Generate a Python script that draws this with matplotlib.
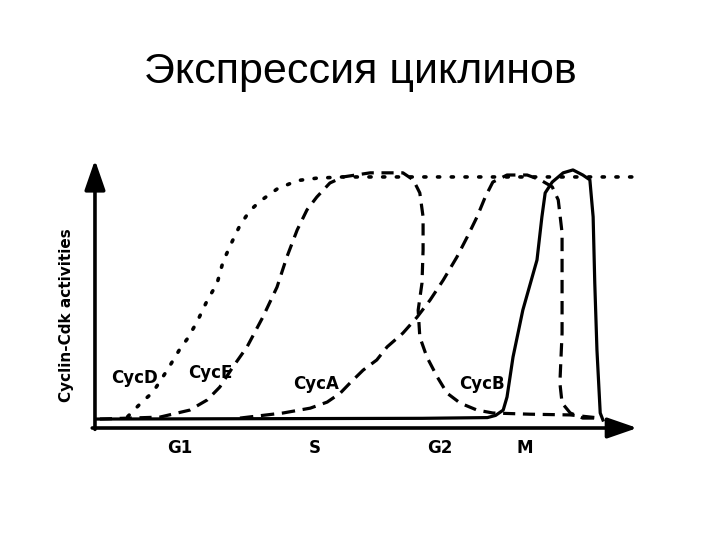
import matplotlib
matplotlib.use("Agg")
import matplotlib.pyplot as plt

# cyclin-Cdk activity curves
# (time in arbitrary units 0-100 along the cell cycle, activity 0-1)
cycd_t = [6, 8.6, 10.6, 13.2, 15.6, 16.9, 18.7, 20.6, 22.4, 23.5, 25.1, 26.6,
          28.4, 30.3, 33.4, 37.1, 40.7, 45.5, 60, 80, 100]
cycd_a = [0.01, 0.07, 0.11, 0.2, 0.29, 0.33, 0.4, 0.49, 0.56, 0.65, 0.73, 0.8,
          0.86, 0.9, 0.95, 0.985, 0.995, 1.0, 1.0, 1.0, 1.0]

cyce_t = [0.9, 11.9, 17.4, 20.6, 22.9, 25.3, 27.9, 30.8, 33.4, 35.2, 37.1, 38.9,
          40.7, 43.1, 45.5, 50.5, 56.5, 58.4, 59.6, 60.2, 60.2, 60.0, 59.3, 59.6,
          60.9, 62.8, 64.6, 67.0, 70.1, 73.0, 79.8, 87.2, 92.7]
cyce_a = [0.0, 0.008, 0.037, 0.079, 0.132, 0.215, 0.298, 0.421, 0.545, 0.669, 0.781, 0.864,
          0.917, 0.975, 1.0, 1.017, 1.017, 0.988, 0.934, 0.835, 0.698, 0.562, 0.45, 0.339,
          0.256, 0.174, 0.107, 0.066, 0.037, 0.025, 0.02, 0.017, 0.004]

cyca_t = [26.6, 34.5, 39.5, 42.6, 45.0, 46.8, 49.2, 51.7, 53.6, 56.5, 59.1, 61.5,
          63.9, 66.4, 68.3, 70.1, 71.6, 73.0, 75.6, 79.3, 81.7, 83.9, 85.0, 85.7,
          85.7, 85.7, 85.3, 85.7, 87.2, 89.5, 93.2]
cyca_a = [0.004, 0.025, 0.045, 0.07, 0.107, 0.149, 0.202, 0.244, 0.298, 0.355, 0.421, 0.492,
          0.574, 0.669, 0.752, 0.835, 0.917, 0.979, 1.008, 1.008, 0.988, 0.959, 0.905, 0.769,
          0.562, 0.355, 0.149, 0.066, 0.025, 0.004, 0.004]

cycb_t = [0.3, 60.0, 72.0, 73.5, 74.9, 75.6, 76.7, 78.5, 81.1, 82.0, 82.6, 83.9, 85.9, 87.7,
          89.5, 90.8, 91.4, 91.7, 92.1, 92.7, 93.2]
cycb_a = [0.0, 0.003, 0.006, 0.015, 0.037, 0.091, 0.256, 0.45, 0.657, 0.835, 0.934, 0.979,
          1.017, 1.029, 1.008, 0.988, 0.835, 0.562, 0.285, 0.025, -0.004]

cyclin_names = ["CycD", "CycE", "CycA", "CycB"]
label_pos = [(7.3, 0.169), (21.1, 0.19), (40.5, 0.145), (71.0, 0.145)]

phases = ["G1", "S", "G2", "M"]
phase_pos = [15.6, 40.4, 63.3, 78.9]

fig = plt.figure(figsize=(7.2, 5.4), dpi=100)
fig.text(0.5, 0.866, "Экспрессия циклинов", ha="center", va="center",
         fontsize=31, family="Liberation Sans")

ax = fig.add_axes([0.1319, 0.2074, 0.757, 0.4963])
ax.set_xlim(0, 100)
ax.set_ylim(-0.037, 1.07)
for s in ax.spines.values():
    s.set_visible(False)
ax.set_xticks([])
ax.set_yticks([])

lw = 2.3
ax.plot(cycd_t, cycd_a, color="black", lw=2.6, linestyle=(0, (0.6, 3.2)),
        dash_capstyle="round")
ax.plot(cyce_t, cyce_a, color="black", lw=lw, linestyle=(0, (3.8, 2.4)))
ax.plot(cyca_t, cyca_a, color="black", lw=lw, linestyle=(0, (4.2, 2.4)))
ax.plot(cycb_t, cycb_a, color="black", lw=lw, solid_joinstyle="round")

# axes drawn as arrows
arrow = dict(arrowstyle="-|>,head_length=1.3,head_width=0.45", color="black",
             lw=2.6, mutation_scale=14, shrinkA=0, shrinkB=0)
ax.annotate("", xy=(0, 1.0), xytext=(0, -0.005), xycoords="axes fraction",
            arrowprops=arrow)
ax.annotate("", xy=(0.995, 0), xytext=(-0.005, 0), xycoords="axes fraction",
            arrowprops=arrow)

for name, (t, a) in zip(cyclin_names, label_pos):
    ax.text(t, a, name, ha="center", va="center", fontsize=12,
            fontweight="bold", family="DejaVu Sans")

for name, t in zip(phases, phase_pos):
    ax.text(t, -0.12, name, ha="center", va="center", fontsize=12,
            fontweight="bold", family="DejaVu Sans", clip_on=False)

ax.text(-0.052, 0.42, "Cyclin-Cdk activities", transform=ax.transAxes,
        rotation=90, ha="center", va="center", fontsize=11, fontweight="bold",
        family="DejaVu Sans")

fig.savefig("out.png", dpi=100)
